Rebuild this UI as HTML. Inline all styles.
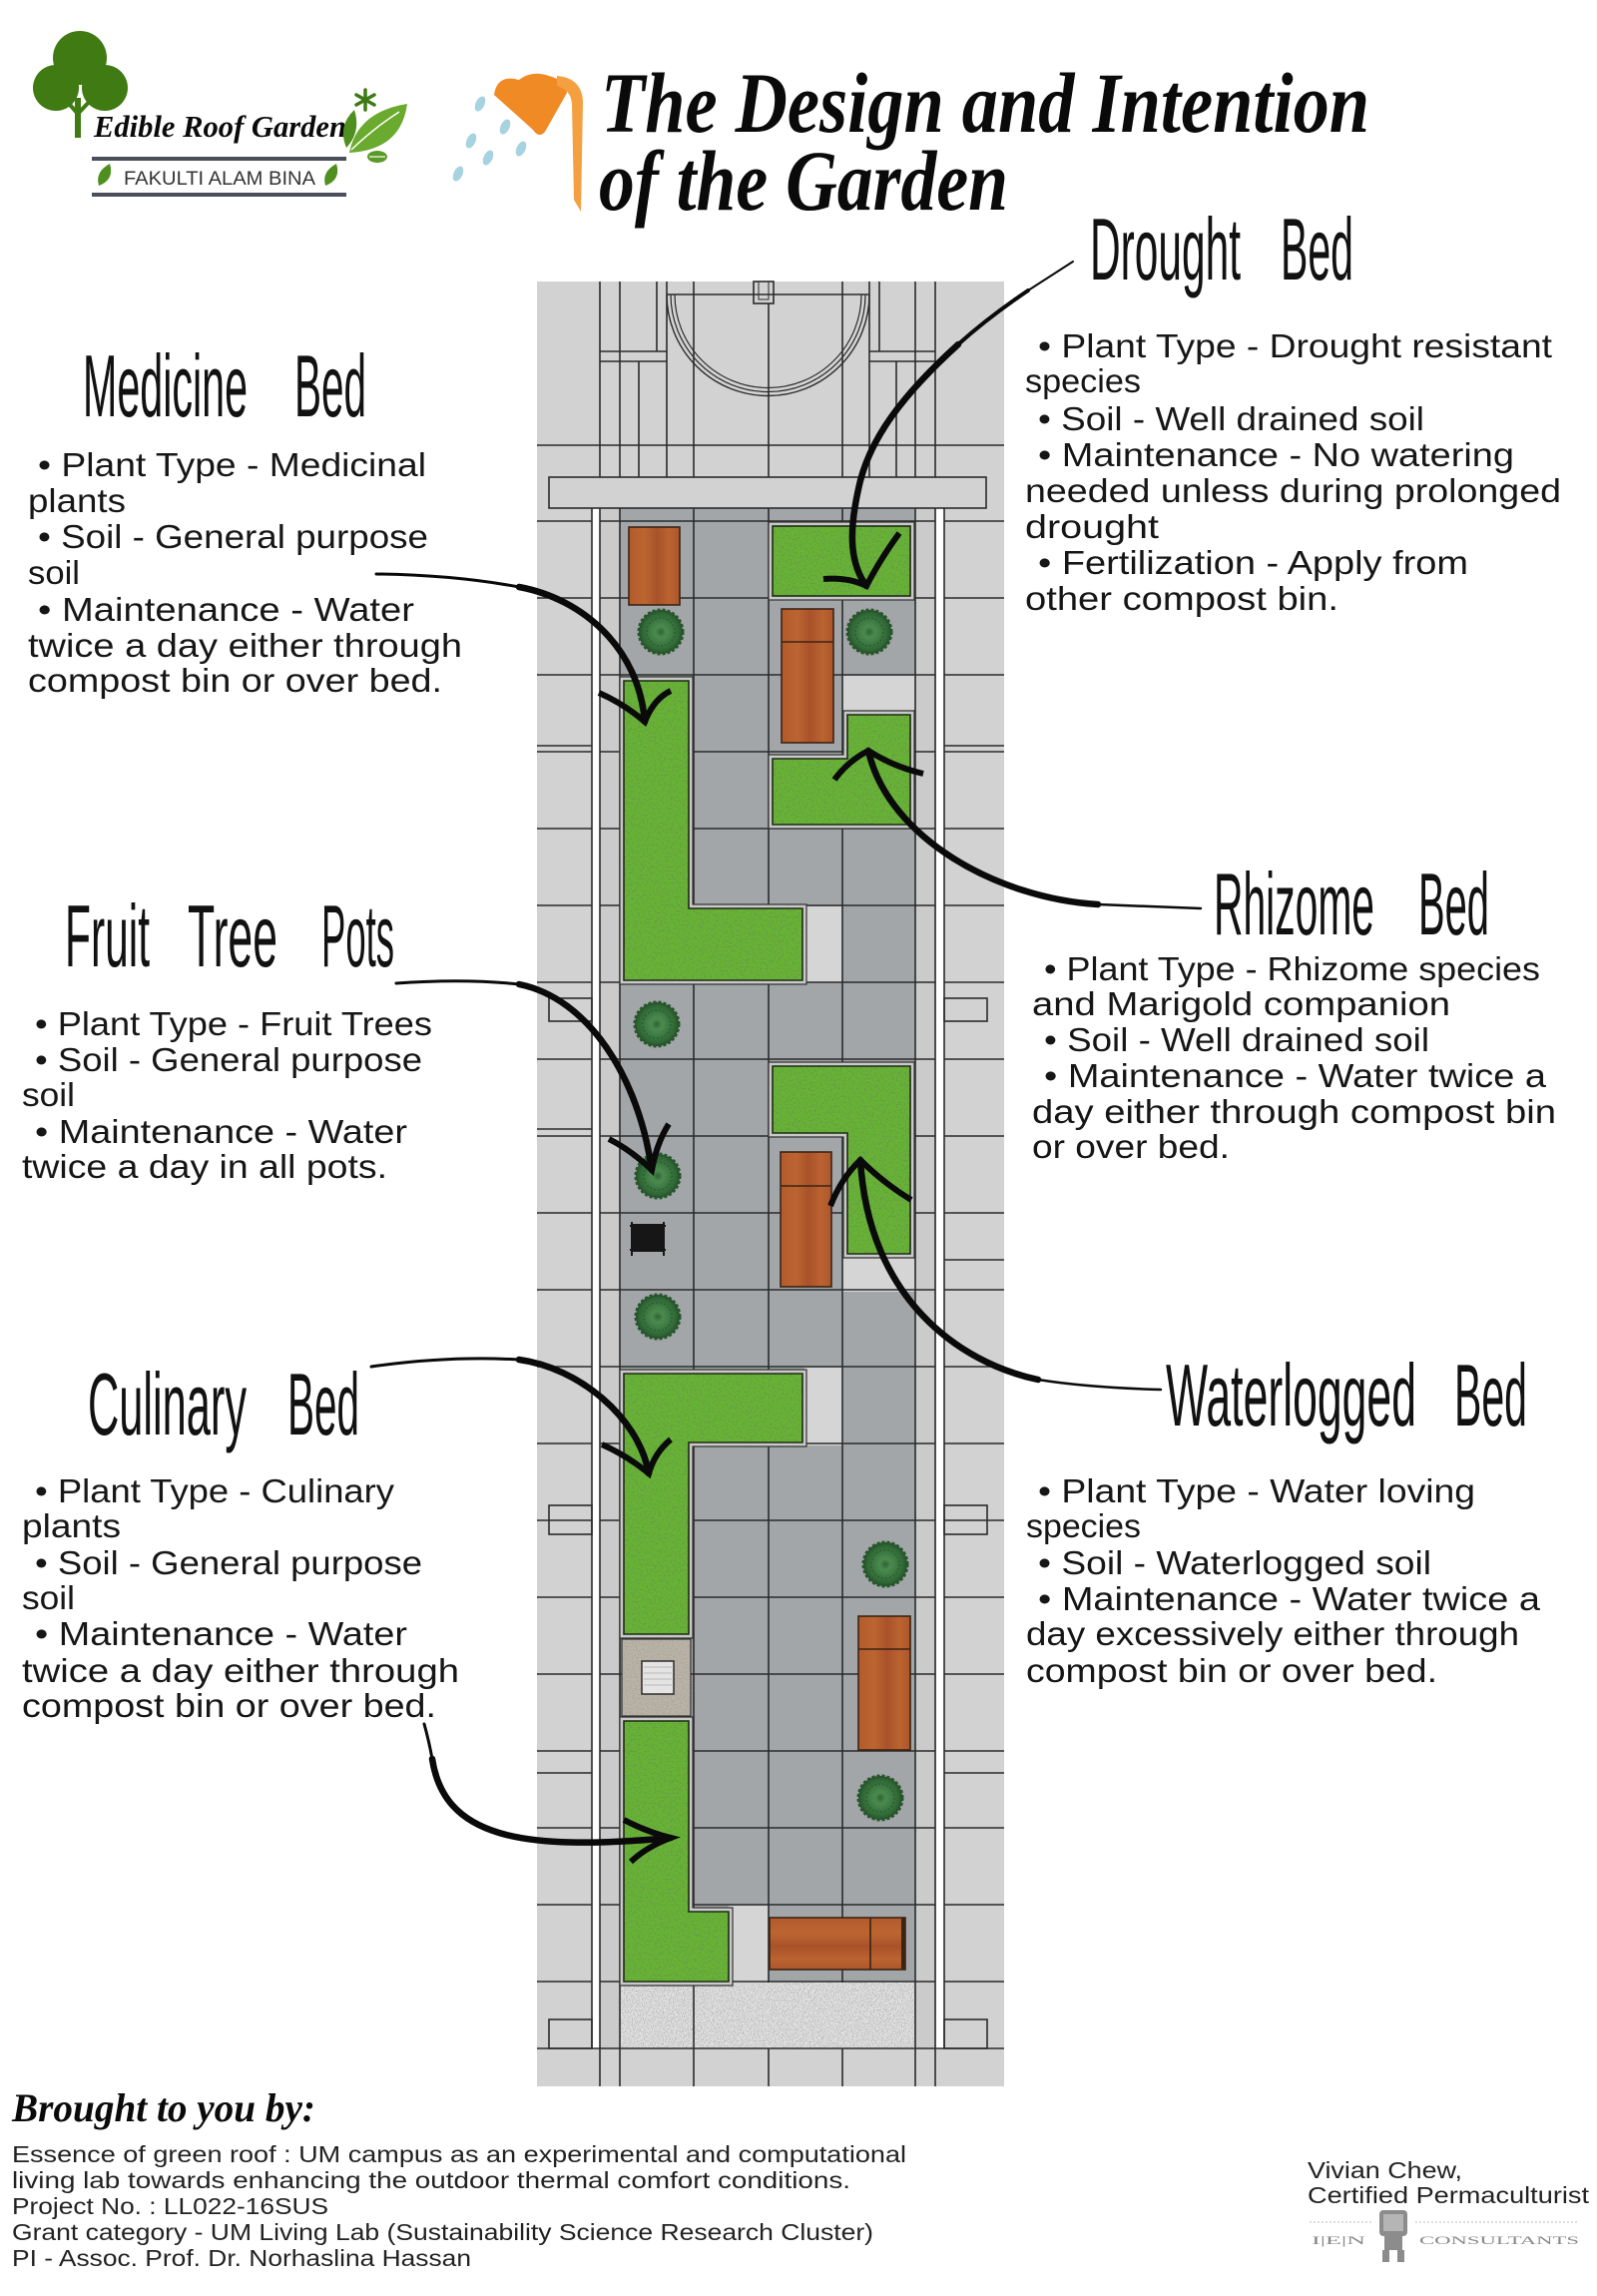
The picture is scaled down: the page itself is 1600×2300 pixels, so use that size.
<!DOCTYPE html>
<html><head><meta charset="utf-8">
<style>
html,body{margin:0;padding:0;background:#fff;}
svg{display:block;}
.b{font-family:"Liberation Sans",sans-serif;font-size:33px;fill:#161616;}
.h{font-family:"Liberation Sans",sans-serif;font-size:88px;fill:#111;}
.f{font-family:"Liberation Sans",sans-serif;font-size:23px;fill:#222;}
.t{font-family:"Liberation Serif",serif;font-weight:bold;font-style:italic;fill:#0a0a0a;}
</style></head><body>
<svg width="1600" height="2300" viewBox="0 0 1600 2300" xmlns="http://www.w3.org/2000/svg">
<defs>
<filter id="grassF" x="0" y="0" width="1" height="1">
  <feTurbulence type="fractalNoise" baseFrequency="0.5" numOctaves="2" seed="7" result="t"/>
  <feColorMatrix in="t" type="matrix" values="0 0 0 0 0.14  0 0 0 0 0.34  0 0 0 0 0.06  6 0 0 0 -2.85" result="dark"/>
  <feFlood flood-color="#66b530" result="base"/>
  <feComposite in="dark" in2="base" operator="over"/>
</filter>
<filter id="gravF" x="0" y="0" width="1" height="1">
  <feTurbulence type="fractalNoise" baseFrequency="0.9" numOctaves="2" seed="3" result="t"/>
  <feColorMatrix in="t" type="matrix" values="0 0 0 0 0.45  0 0 0 0 0.45  0 0 0 0 0.45  6 0 0 0 -2.9" result="dark"/>
  <feFlood flood-color="#e2e2e2" result="base"/>
  <feComposite in="dark" in2="base" operator="over"/>
</filter>
<filter id="compF" x="0" y="0" width="1" height="1">
  <feTurbulence type="fractalNoise" baseFrequency="0.8" numOctaves="2" seed="9" result="t"/>
  <feColorMatrix in="t" type="matrix" values="0 0 0 0 0.40  0 0 0 0 0.37  0 0 0 0 0.32  6 0 0 0 -2.8" result="dark"/>
  <feFlood flood-color="#bdb5a8" result="base"/>
  <feComposite in="dark" in2="base" operator="over"/>
</filter>
<clipPath id="bc">
<rect x="774" y="527" width="138" height="70"/>
<polygon points="625,682 690,682 690,910 804,910 804,982 625,982"/>
<polygon points="849,716 912,716 912,826 774,826 774,760 849,760"/>
<polygon points="774,1068 912,1068 912,1256 849,1256 849,1135 774,1135"/>
<polygon points="625,1376 804,1376 804,1445 690,1445 690,1637 625,1637"/>
<polygon points="625,1724 690,1724 690,1915 730,1915 730,1985 625,1985"/>
</clipPath>
<linearGradient id="woodV" x1="0" y1="0" x2="1" y2="0">
<stop offset="0" stop-color="#b25a2b"/><stop offset="0.3" stop-color="#bd6531"/><stop offset="0.55" stop-color="#a9522a"/><stop offset="0.8" stop-color="#bb6330"/><stop offset="1" stop-color="#ac562b"/>
</linearGradient>
<linearGradient id="woodH" x1="0" y1="0" x2="0" y2="1">
<stop offset="0" stop-color="#b25a2b"/><stop offset="0.3" stop-color="#bd6531"/><stop offset="0.55" stop-color="#a9522a"/><stop offset="0.8" stop-color="#bb6330"/><stop offset="1" stop-color="#ac562b"/>
</linearGradient>
<radialGradient id="treeG" cx="0.5" cy="0.5" r="0.5">
<stop offset="0" stop-color="#2f6334"/><stop offset="0.25" stop-color="#4b8a4f"/><stop offset="0.6" stop-color="#3a7740"/><stop offset="0.85" stop-color="#2f6535"/><stop offset="1" stop-color="#244f29"/>
</radialGradient>
<g id="tree">
<circle r="22" fill="url(#treeG)" stroke="#27552b" stroke-width="3" stroke-dasharray="3 2"/>
<circle r="14" fill="none" stroke="#2b5d30" stroke-width="1.5" stroke-dasharray="2 2"/>
</g>
</defs>

<rect width="1600" height="2300" fill="#fff"/>

<!-- ===== LOGO ===== -->
<g fill="#3f7a12">
<circle cx="80" cy="58" r="27"/>
<circle cx="56" cy="88" r="23"/>
<circle cx="105" cy="88" r="23"/>
<rect x="75" y="98" width="6" height="40"/>
</g>
<path d="M78,114 L64,98 M78,114 L93,98" stroke="#3f7a12" stroke-width="4" fill="none"/>
<text x="94" y="137" class="t" font-size="31" textLength="253" lengthAdjust="spacingAndGlyphs">Edible Roof Garden</text>
<g stroke="#3d7a13" stroke-width="3.5" stroke-linecap="round">
<path d="M366,90 L366,110 M357,95 L375,105 M357,105 L375,95"/>
</g>
<path d="M350,153 Q358,112 408,104 Q402,150 350,153 Z" fill="#6aaa2e"/>
<path d="M352,150 Q375,128 400,112" stroke="#fff" stroke-width="1.5" fill="none"/>
<path d="M347,148 Q338,126 355,110 Q362,132 347,148 Z" fill="#4f8f1f"/>
<ellipse cx="378" cy="157" rx="10" ry="6" fill="#5b9a26"/>
<path d="M370,157 L386,157" stroke="#fff" stroke-width="1.2"/>
<rect x="92" y="157" width="255" height="4" fill="#4a4f5c"/>
<rect x="92" y="193" width="255" height="4" fill="#4a4f5c"/>
<path d="M99,186 Q95,172 110,164 Q115,180 99,186 Z" fill="#4f8f1f"/>
<path d="M326,186 Q322,172 337,164 Q342,180 326,186 Z" fill="#4f8f1f"/>
<text x="124" y="185" font-family="Liberation Sans,sans-serif" font-size="19" fill="#333" textLength="192" lengthAdjust="spacingAndGlyphs">FAKULTI ALAM BINA</text>

<!-- ===== TITLE ICON ===== -->
<g fill="#a7d3e0">
<ellipse cx="481" cy="104" rx="4.5" ry="8" transform="rotate(25 481 104)"/>
<ellipse cx="506" cy="127" rx="4.5" ry="8" transform="rotate(25 506 127)"/>
<ellipse cx="472" cy="141" rx="4.5" ry="8" transform="rotate(25 472 141)"/>
<ellipse cx="522" cy="149" rx="4.5" ry="8" transform="rotate(25 522 149)"/>
<ellipse cx="489" cy="158" rx="4.5" ry="8" transform="rotate(25 489 158)"/>
<ellipse cx="459" cy="174" rx="4.5" ry="8" transform="rotate(25 459 174)"/>
</g>
<path d="M495,95 Q498,74 520,80 Q533,70 550,76 Q566,80 568,93 L546,132 Q540,139 534,130 Z" fill="#f08a24"/>
<path d="M558,76 Q583,78 584,102 L582,212 L575,200 L573,104 Q572,90 558,86 Z" fill="#f4a040"/>

<text x="602" y="132" class="t" font-size="86" textLength="770" lengthAdjust="spacingAndGlyphs">The Design and Intention</text>
<text x="600" y="210" class="t" font-size="86" textLength="410" lengthAdjust="spacingAndGlyphs">of the Garden</text>

<!-- ===== PLAN ===== -->
<rect x="538" y="282" width="468" height="1808" fill="#d2d2d2"/>
<rect x="621" y="509" width="296" height="1476" fill="#a3a6a9"/>
<rect x="601" y="509" width="20" height="1543" fill="#cbcbcb"/>
<rect x="917" y="509" width="20" height="1543" fill="#cbcbcb"/>
<rect x="593" y="509" width="8" height="1543" fill="#ffffff"/>
<rect x="938" y="509" width="8" height="1543" fill="#ffffff"/>
<rect x="621" y="1986" width="296" height="66" filter="url(#gravF)"/>

<!-- light cells -->
<g fill="#d5d5d5">
<rect x="844" y="677" width="73" height="37"/>
<rect x="806" y="908" width="38" height="76"/>
<rect x="844" y="1258" width="73" height="36"/>
<rect x="806" y="1370" width="38" height="78"/>
<rect x="730" y="1909" width="40" height="78"/>
</g>

<!-- grid lines -->
<g stroke="#2b2b2b" stroke-width="1.6" fill="none">
<path d="M538,522H593M601,522H937M946,522H1006
M538,599H593M601,599H937M946,599H1006
M538,676H593M601,676H937M946,676H1006
M538,753H593M601,753H937M946,753H1006
M538,830H593M601,830H937M946,830H1006
M538,907H593M601,907H937M946,907H1006
M538,984H593M601,984H937M946,984H1006
M538,1061H593M601,1061H937M946,1061H1006
M538,1138H593M601,1138H937M946,1138H1006
M538,1215H593M601,1215H937M946,1215H1006
M538,1292H593M601,1292H937M946,1292H1006
M538,1369H593M601,1369H937M946,1369H1006
M538,1446H593M601,1446H937M946,1446H1006
M538,1523H593M601,1523H937M946,1523H1006
M538,1600H593M601,1600H937M946,1600H1006
M538,1677H593M601,1677H937M946,1677H1006
M538,1754H593M601,1754H937M946,1754H1006
M538,1831H593M601,1831H937M946,1831H1006
M538,1908H593M601,1908H937M946,1908H1006
M538,1985H593M601,1985H937M946,1985H1006
M538,2052H1006
M538,747H593M946,747H1006
M538,1131H593M946,1262H1006
M538,1776H593M946,1776H1006
M538,446H1006"/>
<path d="M601,282V2090M621,282V2090M917,282V2090M937,282V2090
M593,509V2052M946,509V2052
M695,282V2090M770,304V1986M844,282V1986M770,2052V2090M844,2052V2090
M640,362V478M658,282V352M668,282V478M871,282V478M881,282V352M898,362V478"/>
<path d="M601,352H668M601,362H668M871,352H937M871,362H937M668,295H871"/>
<rect x="755" y="282" width="20" height="22"/>
<rect x="760" y="282" width="10" height="18" stroke-width="1"/>
<path d="M668,295 A101,101 0 0 0 871,295" stroke-width="1.4"/>
<path d="M672,295 A97,97 0 0 0 867,295" stroke-width="1.2"/>
<path d="M676,295 A93,93 0 0 0 863,295" stroke-width="1.2"/>
<!-- small side rects -->
<rect x="550" y="1000" width="43" height="23"/>
<rect x="946" y="1000" width="43" height="23"/>
<rect x="550" y="1508" width="43" height="29"/>
<rect x="946" y="1508" width="43" height="29"/>
<rect x="550" y="2023" width="43" height="29"/>
<rect x="946" y="2023" width="43" height="29"/>
</g>
<!-- top bar -->
<rect x="550" y="478" width="438" height="31" fill="#d2d2d2" stroke="#2b2b2b" stroke-width="1.6"/>

<!-- bed margins -->
<g fill="#c9c9c9" stroke="#333" stroke-width="1.2">
<rect x="770" y="523" width="146" height="78"/>
<polygon points="621,678 694,678 694,906 808,906 808,986 621,986"/>
<polygon points="845,712 916,712 916,830 770,830 770,756 845,756"/>
<polygon points="770,1064 916,1064 916,1260 845,1260 845,1139 770,1139"/>
<polygon points="621,1372 808,1372 808,1449 694,1449 694,1641 621,1641"/>
<polygon points="621,1720 694,1720 694,1911 734,1911 734,1989 621,1989"/>
</g>
<!-- beds fill -->
<g clip-path="url(#bc)">
<rect x="620" y="520" width="300" height="1470" fill="#5aa42b"/>
<rect x="620" y="520" width="300" height="1470" filter="url(#grassF)"/>
</g>
<g fill="none" stroke="#1f2a15" stroke-width="1.6">
<rect x="774" y="527" width="138" height="70"/>
<polygon points="625,682 690,682 690,910 804,910 804,982 625,982"/>
<polygon points="849,716 912,716 912,826 774,826 774,760 849,760"/>
<polygon points="774,1068 912,1068 912,1256 849,1256 849,1135 774,1135"/>
<polygon points="625,1376 804,1376 804,1445 690,1445 690,1637 625,1637"/>
<polygon points="625,1724 690,1724 690,1915 730,1915 730,1985 625,1985"/>
</g>

<!-- compost -->
<rect x="623" y="1642" width="69" height="77" fill="#aaa294"/>
<rect x="623" y="1642" width="69" height="77" filter="url(#compF)"/>
<rect x="623" y="1642" width="69" height="77" fill="none" stroke="#333" stroke-width="1.2"/>
<rect x="643" y="1664" width="32" height="33" fill="#e4e4e4" stroke="#222" stroke-width="1.4"/>
<path d="M645,1670H673M645,1676H673M645,1682H673M645,1688H673" stroke="#b8b8b8" stroke-width="1"/>

<!-- benches -->
<g stroke="#3b2414" stroke-width="1.6">
<rect x="630" y="528" width="51" height="78" fill="url(#woodV)"/>
<rect x="783" y="610" width="52" height="134" fill="url(#woodV)"/>
<rect x="782" y="1154" width="51" height="135" fill="url(#woodV)"/>
<rect x="860" y="1619" width="52" height="134" fill="url(#woodV)"/>
<rect x="771" y="1921" width="136" height="52" fill="url(#woodH)"/>
<path d="M783,643H835M782,1188H833M860,1652H912M872,1921V1973" fill="none"/>
</g>
<rect x="903" y="1921" width="4" height="52" fill="#3b2414"/>

<!-- trees -->
<use href="#tree" x="662" y="633"/>
<use href="#tree" x="871" y="633"/>
<use href="#tree" x="658" y="1026"/>
<use href="#tree" x="659" y="1178"/>
<use href="#tree" x="659" y="1319"/>
<use href="#tree" x="887" y="1567"/>
<use href="#tree" x="882" y="1801"/>

<!-- bin -->
<rect x="634" y="1226" width="30" height="28" fill="#161616"/>
<path d="M631,1228H667M631,1252H667M633,1224V1258M665,1224V1258" stroke="#161616" stroke-width="2" fill="none"/>

<!-- ===== ARROWS ===== -->
<g fill="none" stroke="#0a0a0a" stroke-linecap="round">
<!-- drought -->
<path d="M1075,262 L1030,291" stroke-width="2"/>
<path d="M1030,291 Q990,318 960,345" stroke-width="4"/>
<path d="M960,345 C905,395 870,440 860,490 C850,535 852,565 868,587" stroke-width="6.5"/>
<path d="M901,534 Q882,560 868,587 Q850,578 825,580" stroke-width="6" stroke-linejoin="miter" stroke-linecap="butt"/>
<!-- medicine -->
<path d="M377,575 Q455,576 520,588" stroke-width="3"/>
<path d="M520,588 C585,600 640,650 646,723" stroke-width="6.5"/>
<path d="M600,694 Q625,705 646,723 Q655,700 672,692" stroke-width="6" stroke-linejoin="miter" stroke-linecap="butt"/>
<!-- rhizome -->
<path d="M1203,910 L1100,906" stroke-width="2.5"/>
<path d="M1100,906 C1000,900 890,840 870,752" stroke-width="6.5"/>
<path d="M836,781 Q850,762 870,752 Q895,768 925,775" stroke-width="6" stroke-linejoin="miter" stroke-linecap="butt"/>
<!-- fruit -->
<path d="M397,985 Q465,980 520,986" stroke-width="3"/>
<path d="M520,986 C590,1000 640,1080 653,1172" stroke-width="6.5"/>
<path d="M610,1141 Q632,1152 653,1172 Q658,1145 670,1126" stroke-width="6" stroke-linejoin="miter" stroke-linecap="butt"/>
<!-- waterlogged -->
<path d="M1163,1392 Q1090,1390 1040,1382" stroke-width="2.5"/>
<path d="M1040,1382 C960,1365 870,1300 862,1162" stroke-width="6.5"/>
<path d="M832,1208 Q843,1180 862,1162 Q885,1185 913,1202" stroke-width="6" stroke-linejoin="miter" stroke-linecap="butt"/>
<!-- culinary top -->
<path d="M372,1369 Q450,1358 520,1362" stroke-width="3"/>
<path d="M520,1362 C580,1370 640,1420 650,1476" stroke-width="6.5"/>
<path d="M603,1447 Q628,1458 650,1476 Q656,1455 672,1442" stroke-width="6" stroke-linejoin="miter" stroke-linecap="butt"/>
<!-- culinary bottom -->
<path d="M425,1727 Q430,1745 433,1762" stroke-width="3"/>
<path d="M433,1762 C445,1840 520,1855 672,1841" stroke-width="6.5"/>
<path d="M625,1823 Q648,1835 672,1841 Q648,1850 632,1865" stroke-width="6" stroke-linejoin="miter" stroke-linecap="butt"/>
</g>

<!-- ===== HEADINGS ===== -->
<g class="h">
<text x="83" y="417" textLength="165" lengthAdjust="spacingAndGlyphs">Medicine</text>
<text x="295" y="417" textLength="72" lengthAdjust="spacingAndGlyphs">Bed</text>
<text x="1092" y="280" textLength="151" lengthAdjust="spacingAndGlyphs">Drought</text>
<text x="1283" y="280" textLength="73" lengthAdjust="spacingAndGlyphs">Bed</text>
<text x="65" y="968" textLength="85" lengthAdjust="spacingAndGlyphs">Fruit</text>
<text x="188" y="968" textLength="90" lengthAdjust="spacingAndGlyphs">Tree</text>
<text x="322" y="968" textLength="73" lengthAdjust="spacingAndGlyphs">Pots</text>
<text x="1216" y="936" textLength="161" lengthAdjust="spacingAndGlyphs">Rhizome</text>
<text x="1421" y="936" textLength="71" lengthAdjust="spacingAndGlyphs">Bed</text>
<text x="88" y="1437" textLength="159" lengthAdjust="spacingAndGlyphs">Culinary</text>
<text x="288" y="1437" textLength="72" lengthAdjust="spacingAndGlyphs">Bed</text>
<text x="1168" y="1428" textLength="251" lengthAdjust="spacingAndGlyphs">Waterlogged</text>
<text x="1457" y="1428" textLength="73" lengthAdjust="spacingAndGlyphs">Bed</text>
</g>

<!-- ===== BODY TEXT ===== -->
<g class="b">
<!-- medicine -->
<text x="38" y="477" textLength="389" lengthAdjust="spacingAndGlyphs">• Plant Type - Medicinal</text>
<text x="28" y="513" textLength="98" lengthAdjust="spacingAndGlyphs">plants</text>
<text x="38" y="549" textLength="391" lengthAdjust="spacingAndGlyphs">• Soil - General purpose</text>
<text x="28" y="585" textLength="52" lengthAdjust="spacingAndGlyphs">soil</text>
<text x="38" y="622" textLength="377" lengthAdjust="spacingAndGlyphs">• Maintenance - Water</text>
<text x="28" y="658" textLength="435" lengthAdjust="spacingAndGlyphs">twice a day either through</text>
<text x="28" y="693" textLength="415" lengthAdjust="spacingAndGlyphs">compost bin or over bed.</text>
<!-- fruit -->
<text x="35" y="1037" textLength="398" lengthAdjust="spacingAndGlyphs">• Plant Type - Fruit Trees</text>
<text x="35" y="1073" textLength="388" lengthAdjust="spacingAndGlyphs">• Soil - General purpose</text>
<text x="22" y="1108" textLength="53" lengthAdjust="spacingAndGlyphs">soil</text>
<text x="35" y="1145" textLength="373" lengthAdjust="spacingAndGlyphs">• Maintenance - Water</text>
<text x="22" y="1180" textLength="366" lengthAdjust="spacingAndGlyphs">twice a day in all pots.</text>
<!-- culinary -->
<text x="35" y="1505" textLength="360" lengthAdjust="spacingAndGlyphs">• Plant Type - Culinary</text>
<text x="22" y="1540" textLength="99" lengthAdjust="spacingAndGlyphs">plants</text>
<text x="35" y="1577" textLength="388" lengthAdjust="spacingAndGlyphs">• Soil - General purpose</text>
<text x="22" y="1612" textLength="53" lengthAdjust="spacingAndGlyphs">soil</text>
<text x="35" y="1648" textLength="373" lengthAdjust="spacingAndGlyphs">• Maintenance - Water</text>
<text x="22" y="1685" textLength="438" lengthAdjust="spacingAndGlyphs">twice a day either through</text>
<text x="22" y="1720" textLength="415" lengthAdjust="spacingAndGlyphs">compost bin or over bed.</text>
<!-- drought -->
<text x="1040" y="358" textLength="515" lengthAdjust="spacingAndGlyphs">• Plant Type - Drought resistant</text>
<text x="1027" y="393" textLength="116" lengthAdjust="spacingAndGlyphs">species</text>
<text x="1040" y="431" textLength="387" lengthAdjust="spacingAndGlyphs">• Soil - Well drained soil</text>
<text x="1040" y="467" textLength="477" lengthAdjust="spacingAndGlyphs">• Maintenance - No watering</text>
<text x="1027" y="503" textLength="537" lengthAdjust="spacingAndGlyphs">needed unless during prolonged</text>
<text x="1027" y="539" textLength="134" lengthAdjust="spacingAndGlyphs">drought</text>
<text x="1040" y="575" textLength="431" lengthAdjust="spacingAndGlyphs">• Fertilization - Apply from</text>
<text x="1027" y="611" textLength="314" lengthAdjust="spacingAndGlyphs">other compost bin.</text>
<!-- rhizome -->
<text x="1046" y="982" textLength="497" lengthAdjust="spacingAndGlyphs">• Plant Type - Rhizome species</text>
<text x="1034" y="1017" textLength="419" lengthAdjust="spacingAndGlyphs">and Marigold companion</text>
<text x="1046" y="1053" textLength="386" lengthAdjust="spacingAndGlyphs">• Soil - Well drained soil</text>
<text x="1046" y="1089" textLength="503" lengthAdjust="spacingAndGlyphs">• Maintenance - Water twice a</text>
<text x="1034" y="1125" textLength="525" lengthAdjust="spacingAndGlyphs">day either through compost bin</text>
<text x="1034" y="1160" textLength="198" lengthAdjust="spacingAndGlyphs">or over bed.</text>
<!-- waterlogged -->
<text x="1040" y="1505" textLength="438" lengthAdjust="spacingAndGlyphs">• Plant Type - Water loving</text>
<text x="1028" y="1540" textLength="115" lengthAdjust="spacingAndGlyphs">species</text>
<text x="1040" y="1577" textLength="394" lengthAdjust="spacingAndGlyphs">• Soil - Waterlogged soil</text>
<text x="1040" y="1613" textLength="503" lengthAdjust="spacingAndGlyphs">• Maintenance - Water twice a</text>
<text x="1028" y="1648" textLength="494" lengthAdjust="spacingAndGlyphs">day excessively either through</text>
<text x="1028" y="1685" textLength="412" lengthAdjust="spacingAndGlyphs">compost bin or over bed.</text>
</g>

<!-- ===== FOOTER ===== -->
<text x="12" y="2125" class="t" font-size="40" textLength="304" lengthAdjust="spacingAndGlyphs">Brought to you by:</text>
<g class="f">
<text x="12" y="2166" textLength="896" lengthAdjust="spacingAndGlyphs">Essence of green roof : UM campus as an experimental and computational</text>
<text x="12" y="2192" textLength="840" lengthAdjust="spacingAndGlyphs">living lab towards enhancing the outdoor thermal comfort conditions.</text>
<text x="12" y="2218" textLength="317" lengthAdjust="spacingAndGlyphs">Project No. : LL022-16SUS</text>
<text x="12" y="2244" textLength="863" lengthAdjust="spacingAndGlyphs">Grant category - UM Living Lab (Sustainability Science Research Cluster)</text>
<text x="12" y="2270" textLength="460" lengthAdjust="spacingAndGlyphs">PI - Assoc. Prof. Dr. Norhaslina Hassan</text>
<text x="1310" y="2182" textLength="155" lengthAdjust="spacingAndGlyphs">Vivian Chew,</text>
<text x="1310" y="2207" textLength="282" lengthAdjust="spacingAndGlyphs">Certified Permaculturist</text>
</g>
<g fill="#8c8c8c">
<rect x="1382" y="2214" width="28" height="26" rx="4"/>
<rect x="1386" y="2218" width="20" height="17" fill="#b5b5b5"/>
<rect x="1387" y="2240" width="18" height="14"/>
<rect x="1385" y="2254" width="7" height="12"/>
<rect x="1400" y="2254" width="7" height="12"/>
</g>
<path d="M1312,2226H1376M1418,2226H1582" stroke="#d4d4d4" stroke-width="1.5" stroke-dasharray="2 2"/>
<text x="1314" y="2248" font-family="Liberation Serif,serif" font-size="12" fill="#888" textLength="54" lengthAdjust="spacingAndGlyphs">I|E|N</text>
<text x="1422" y="2248" font-family="Liberation Serif,serif" font-size="12" fill="#888" textLength="160" lengthAdjust="spacingAndGlyphs">CONSULTANTS</text>
</svg>
</body></html>
